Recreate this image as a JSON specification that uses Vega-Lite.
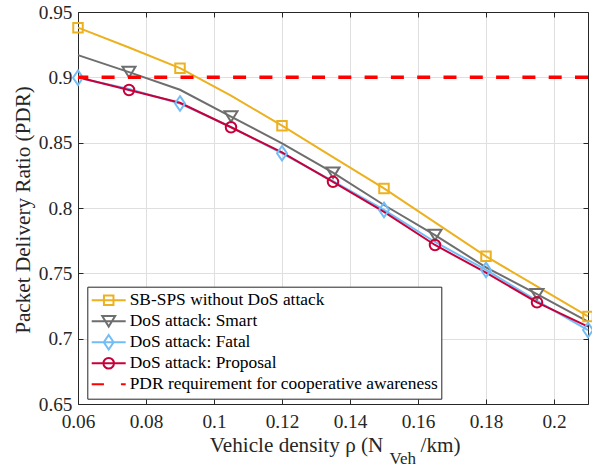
{
  "$schema": "https://vega.github.io/schema/vega-lite/v6.json",
  "width": 510,
  "height": 392,
  "autosize": "none",
  "padding": {"left": 78, "top": 12, "right": 4, "bottom": 62},
  "config": {
    "view": {"stroke": null},
    "axis": {
      "domainColor": "#262626",
      "domainWidth": 1,
      "tickColor": "#262626",
      "tickWidth": 1,
      "gridColor": "#dfdfdf",
      "gridWidth": 1,
      "labelFont": "Times New Roman",
      "labelFontSize": 19.3,
      "labelColor": "#262626",
      "labelFlush": false,
      "titleFont": "Times New Roman",
      "titleFontSize": 21.2,
      "titleFontWeight": "normal",
      "titleColor": "#262626"
    },
    "legend": {
      "padding": 3.4,
      "rowPadding": 0,
      "clipHeight": 20.3,
      "symbolSize": 1156,
      "symbolStrokeWidth": 2,
      "symbolOpacity": 1,
      "labelFont": "Times New Roman",
      "labelFontSize": 17.4,
      "labelColor": "#000000",
      "labelOffset": 3,
      "labelLimit": 500,
      "strokeColor": "#262626",
      "fillColor": "#ffffff",
      "direction": "vertical"
    }
  },
  "datasets": {
    "pdr": [
      {"series": "SB-SPS without DoS attack", "x": 0.06, "y": 0.938},
      {"series": "SB-SPS without DoS attack", "x": 0.075, "y": 0.9228},
      {"series": "SB-SPS without DoS attack", "x": 0.09, "y": 0.907},
      {"series": "SB-SPS without DoS attack", "x": 0.105, "y": 0.886},
      {"series": "SB-SPS without DoS attack", "x": 0.12, "y": 0.863},
      {"series": "SB-SPS without DoS attack", "x": 0.135, "y": 0.839},
      {"series": "SB-SPS without DoS attack", "x": 0.15, "y": 0.815},
      {"series": "SB-SPS without DoS attack", "x": 0.165, "y": 0.789},
      {"series": "SB-SPS without DoS attack", "x": 0.18, "y": 0.763},
      {"series": "SB-SPS without DoS attack", "x": 0.195, "y": 0.74},
      {"series": "SB-SPS without DoS attack", "x": 0.21, "y": 0.717},
      {"series": "DoS attack: Smart", "x": 0.06, "y": 0.917},
      {"series": "DoS attack: Smart", "x": 0.075, "y": 0.904},
      {"series": "DoS attack: Smart", "x": 0.09, "y": 0.8905},
      {"series": "DoS attack: Smart", "x": 0.105, "y": 0.87},
      {"series": "DoS attack: Smart", "x": 0.12, "y": 0.8495},
      {"series": "DoS attack: Smart", "x": 0.135, "y": 0.827},
      {"series": "DoS attack: Smart", "x": 0.15, "y": 0.8023},
      {"series": "DoS attack: Smart", "x": 0.165, "y": 0.7793},
      {"series": "DoS attack: Smart", "x": 0.18, "y": 0.7546},
      {"series": "DoS attack: Smart", "x": 0.195, "y": 0.734},
      {"series": "DoS attack: Smart", "x": 0.21, "y": 0.713},
      {"series": "DoS attack: Fatal", "x": 0.06, "y": 0.8997},
      {"series": "DoS attack: Fatal", "x": 0.075, "y": 0.891},
      {"series": "DoS attack: Fatal", "x": 0.09, "y": 0.88},
      {"series": "DoS attack: Fatal", "x": 0.105, "y": 0.862},
      {"series": "DoS attack: Fatal", "x": 0.12, "y": 0.8419},
      {"series": "DoS attack: Fatal", "x": 0.135, "y": 0.8205},
      {"series": "DoS attack: Fatal", "x": 0.15, "y": 0.7985},
      {"series": "DoS attack: Fatal", "x": 0.165, "y": 0.774},
      {"series": "DoS attack: Fatal", "x": 0.18, "y": 0.7526},
      {"series": "DoS attack: Fatal", "x": 0.195, "y": 0.729},
      {"series": "DoS attack: Fatal", "x": 0.21, "y": 0.7066},
      {"series": "DoS attack: Proposal", "x": 0.06, "y": 0.9},
      {"series": "DoS attack: Proposal", "x": 0.075, "y": 0.8903},
      {"series": "DoS attack: Proposal", "x": 0.09, "y": 0.8805},
      {"series": "DoS attack: Proposal", "x": 0.105, "y": 0.8618},
      {"series": "DoS attack: Proposal", "x": 0.12, "y": 0.8425},
      {"series": "DoS attack: Proposal", "x": 0.135, "y": 0.82},
      {"series": "DoS attack: Proposal", "x": 0.15, "y": 0.797},
      {"series": "DoS attack: Proposal", "x": 0.165, "y": 0.7717},
      {"series": "DoS attack: Proposal", "x": 0.18, "y": 0.7505},
      {"series": "DoS attack: Proposal", "x": 0.195, "y": 0.7278},
      {"series": "DoS attack: Proposal", "x": 0.21, "y": 0.7092}
    ],
    "legendRows": [
      {"series": "SB-SPS without DoS attack"},
      {"series": "DoS attack: Smart"},
      {"series": "DoS attack: Fatal"},
      {"series": "DoS attack: Proposal"},
      {"series": "PDR requirement for cooperative awareness"}
    ],
    "requirement": [{"pdr": 0.9}]
  },
  "data": {"name": "pdr"},
  "layer": [
    {
      "data": {"name": "legendRows"},
      "mark": {"type": "point", "filled": false, "opacity": 0, "strokeWidth": 2},
      "encoding": {
        "color": {
          "field": "series", "type": "nominal", "title": null,
          "scale": {
            "domain": ["SB-SPS without DoS attack", "DoS attack: Smart", "DoS attack: Fatal", "DoS attack: Proposal", "PDR requirement for cooperative awareness"],
            "range": ["#EDB120", "#6E6E6E", "#72BDF6", "#C8003A", "#FF0000"]
          },
          "legend": {
            "orient": "none", "legendX": 9.3, "legendY": 274.7, "labelFont": "Times New Roman",
            "encode": {"symbols": {"update": {"strokeWidth": {"signal": "datum.value === 'PDR requirement for cooperative awareness' ? 3.5 : 2"}}}}
          }
        },
        "shape": {
          "field": "series", "type": "nominal", "title": null,
          "scale": {
            "domain": ["SB-SPS without DoS attack", "DoS attack: Smart", "DoS attack: Fatal", "DoS attack: Proposal", "PDR requirement for cooperative awareness"],
            "range": [
              "M-1,0H1M-0.28,-0.28H0.28V0.28H-0.28Z",
              "M-1,0H1M-0.38,-0.31L0.38,-0.31L0,0.31Z",
              "M-1,0H1M0,-0.43L0.29,0L0,0.43L-0.29,0Z",
              "M-1,0H1M-0.31,0A0.31,0.31,0,1,0,0.31,0A0.31,0.31,0,1,0,-0.31,0Z",
              "M-1,0H-0.28M0.72,0H1"
            ]
          },
          "legend": {
            "orient": "none", "legendX": 9.3, "legendY": 274.7, "labelFont": "Times New Roman",
            "encode": {"symbols": {"update": {"strokeWidth": {"signal": "datum.value === 'PDR requirement for cooperative awareness' ? 3.5 : 2"}}}}
          }
        }
      }
    },
    {
      "mark": {"type": "line", "strokeWidth": 2},
      "encoding": {
        "x": {
          "field": "x", "type": "quantitative",
          "scale": {"domain": [0.06, 0.21], "nice": false, "zero": false},
          "axis": {
            "orient": "bottom",
            "values": [0.06, 0.08, 0.1, 0.12, 0.14, 0.16, 0.18, 0.2],
            "format": "~g",
            "grid": true,
            "tickSize": -5,
            "labelPadding": 13.8,
            "labelFont": "Times New Roman",
            "titleFont": "Times New Roman",
            "title": "Vehicle density ρ (N",
            "titleX": 131.3, "titleY": 47,
            "titleAlign": "left", "titleBaseline": "alphabetic", "titleAnchor": "start"
          }
        },
        "y": {
          "field": "y", "type": "quantitative",
          "scale": {"domain": [0.65, 0.95], "nice": false, "zero": false},
          "axis": {
            "orient": "left",
            "values": [0.65, 0.7, 0.75, 0.8, 0.85, 0.9, 0.95],
            "format": "~g",
            "grid": true,
            "tickSize": -5,
            "labelPadding": 11,
            "labelFont": "Times New Roman",
            "titleFont": "Times New Roman",
            "title": "Packet Delivery Ratio (PDR)",
            "titleX": -49, "titleY": 197.5,
            "titleAlign": "center", "titleBaseline": "alphabetic", "titleAngle": -90
          }
        },
        "color": {"field": "series", "type": "nominal"}
      }
    },
    {
      "transform": [
        {"filter": {"field": "series", "equal": "SB-SPS without DoS attack"}},
        {"filter": {"field": "x", "oneOf": [0.06, 0.09, 0.12, 0.15, 0.18, 0.21]}}
      ],
      "mark": {"type": "point", "shape": "square", "size": 90, "color": "#EDB120", "filled": false, "strokeWidth": 2, "opacity": 1},
      "encoding": {
        "x": {"field": "x", "type": "quantitative", "axis": null},
        "y": {"field": "y", "type": "quantitative", "axis": null}
      }
    },
    {
      "transform": [
        {"filter": {"field": "series", "equal": "DoS attack: Smart"}},
        {"filter": {"field": "x", "oneOf": [0.075, 0.105, 0.135, 0.165, 0.195]}}
      ],
      "mark": {"type": "point", "shape": "M-1,-0.82L1,-0.82L0,0.82Z", "size": 169, "color": "#6E6E6E", "filled": false, "strokeWidth": 2, "opacity": 1},
      "encoding": {
        "x": {"field": "x", "type": "quantitative", "axis": null},
        "y": {"field": "y", "type": "quantitative", "axis": null}
      }
    },
    {
      "transform": [
        {"filter": {"field": "series", "equal": "DoS attack: Fatal"}},
        {"filter": {"field": "x", "oneOf": [0.06, 0.09, 0.12, 0.15, 0.18, 0.21]}}
      ],
      "mark": {"type": "point", "shape": "M0,-1L0.68,0L0,1L-0.68,0Z", "size": 213, "color": "#72BDF6", "filled": false, "strokeWidth": 2, "opacity": 1},
      "encoding": {
        "x": {"field": "x", "type": "quantitative", "axis": null},
        "y": {"field": "y", "type": "quantitative", "axis": null}
      }
    },
    {
      "transform": [
        {"filter": {"field": "series", "equal": "DoS attack: Proposal"}},
        {"filter": {"field": "x", "oneOf": [0.075, 0.105, 0.135, 0.165, 0.195]}}
      ],
      "mark": {"type": "point", "shape": "circle", "size": 110, "color": "#C8003A", "filled": false, "strokeWidth": 2, "opacity": 1},
      "encoding": {
        "x": {"field": "x", "type": "quantitative", "axis": null},
        "y": {"field": "y", "type": "quantitative", "axis": null}
      }
    },
    {
      "data": {"name": "requirement"},
      "mark": {"type": "rule", "color": "#FF0000", "strokeWidth": 3.5, "strokeDash": [13, 13.3]},
      "encoding": {
        "y": {"field": "pdr", "type": "quantitative", "axis": null}
      }
    },
    {
      "mark": {"type": "point", "opacity": 0},
      "encoding": {
        "x": {
          "field": "x", "type": "quantitative",
          "axis": {"orient": "top", "values": [0.06, 0.08, 0.1, 0.12, 0.14, 0.16, 0.18, 0.2], "labels": false, "grid": false, "tickSize": -5, "title": null}
        },
        "y": {
          "field": "y", "type": "quantitative",
          "axis": {"orient": "right", "values": [0.65, 0.7, 0.75, 0.8, 0.85, 0.9, 0.95], "labels": false, "grid": false, "tickSize": -5, "title": null}
        }
      }
    },
    {
      "mark": {"type": "point", "opacity": 0},
      "encoding": {
        "x": {
          "field": "x", "type": "quantitative",
          "axis": {"orient": "bottom", "labels": false, "ticks": false, "domain": false, "grid": false,
            "title": "Veh", "titleFont": "Times New Roman", "titleFontSize": 17, "titleX": 311, "titleY": 59, "titleAlign": "left", "titleBaseline": "alphabetic", "titleAnchor": "start"}
        },
        "y": {"field": "y", "type": "quantitative", "axis": null}
      }
    },
    {
      "mark": {"type": "point", "opacity": 0},
      "encoding": {
        "x": {
          "field": "x", "type": "quantitative",
          "axis": {"orient": "bottom", "labels": false, "ticks": false, "domain": false, "grid": false,
            "title": "/km)", "titleFont": "Times New Roman", "titleX": 342, "titleY": 47, "titleAlign": "left", "titleBaseline": "alphabetic", "titleAnchor": "start"}
        },
        "y": {"field": "y", "type": "quantitative", "axis": null}
      }
    }
  ],
  "resolve": {"axis": {"x": "independent", "y": "independent"}}
}
